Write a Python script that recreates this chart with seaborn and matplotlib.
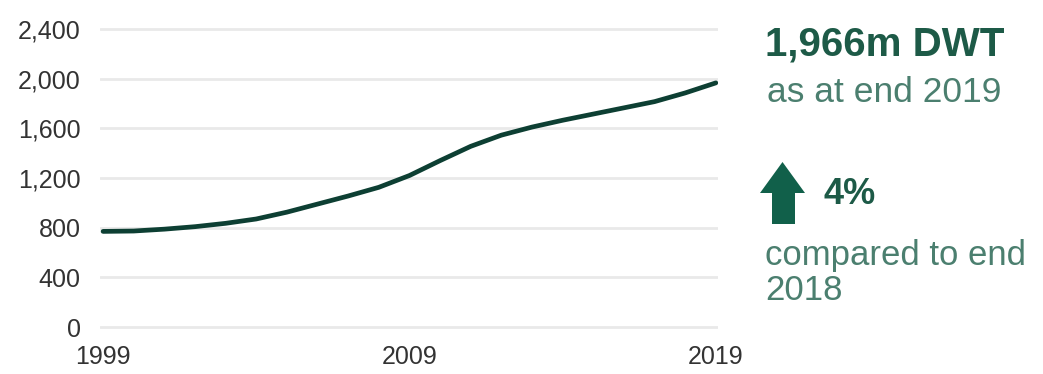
import matplotlib
matplotlib.use("Agg")
import matplotlib.pyplot as plt
from matplotlib.patches import Polygon
import seaborn as sns
import pandas as pd

# World fleet deadweight tonnage, million DWT, end of year
years = list(range(1999, 2020))
fleet_dwt = [770, 773, 788, 808, 835, 870, 925, 990, 1055, 1125, 1220,
             1340, 1455, 1545, 1610, 1665, 1715, 1765, 1815, 1885, 1966]
x_ticks = [1999, 2009, 2019]
y_ticks = [0, 400, 800, 1200, 1600, 2000, 2400]

headline = "1,966m DWT"
headline_sub = "as at end 2019"
change = "4%"
change_sub = ["compared to end", "2018"]

W, H = 1043, 374
sns.set_style("white")
plt.rcParams["font.family"] = ["Liberation Sans", "DejaVu Sans"]

fig = plt.figure(figsize=(W / 100, H / 100), dpi=100)


def fx(px):
    return px / W


def fy(py):
    return (H - py) / H


ax = fig.add_axes([fx(100), fy(330), fx(718) - fx(100), fy(25) - fy(330)])

df = pd.DataFrame({"year": years, "dwt": fleet_dwt})
sns.lineplot(data=df, x="year", y="dwt", ax=ax, color="#0d3f33",
             linewidth=3.4, solid_capstyle="round", solid_joinstyle="round",
             zorder=3)

ax.set_xlim(1998.9, 2019.07)
ax.set_ylim(-24, 2432)
ax.set_xticks(x_ticks)
ax.set_yticks(y_ticks)
ax.set_yticklabels([f"{v:,}" for v in y_ticks])
ax.grid(axis="y", color="#e9e9e9", linewidth=2.0)
ax.grid(axis="x", visible=False)
for s in ax.spines.values():
    s.set_visible(False)
ax.tick_params(axis="y", length=0, pad=14, labelsize=18, labelcolor="#333333")
ax.tick_params(axis="x", length=0, pad=11, labelsize=18, labelcolor="#333333")
ax.set_xlabel("")
ax.set_ylabel("")

# Summary panel on the right
dark_green = "#1d5a47"
soft_green = "#4b7f6f"
fig.text(fx(765), fy(56), headline, fontsize=29, fontweight="bold",
         color=dark_green, va="baseline", ha="left")
fig.text(fx(767), fy(102), headline_sub, fontsize=25.5,
         color=soft_green, va="baseline", ha="left")

arrow_px = [(782.5, 162), (805, 193), (795, 193), (795, 224),
            (772, 224), (772, 193), (760, 193)]
fig.patches.append(Polygon([(fx(a), fy(b)) for a, b in arrow_px],
                           closed=True, transform=fig.transFigure,
                           facecolor="#11604a", edgecolor="none"))
fig.text(fx(824), fy(204), change, fontsize=26, fontweight="bold",
         color=dark_green, va="baseline", ha="left")
fig.text(fx(765), fy(265), change_sub[0], fontsize=25,
         color=soft_green, va="baseline", ha="left")
fig.text(fx(765), fy(300), change_sub[1], fontsize=25,
         color=soft_green, va="baseline", ha="left")

fig.savefig("out.png", dpi=100)
